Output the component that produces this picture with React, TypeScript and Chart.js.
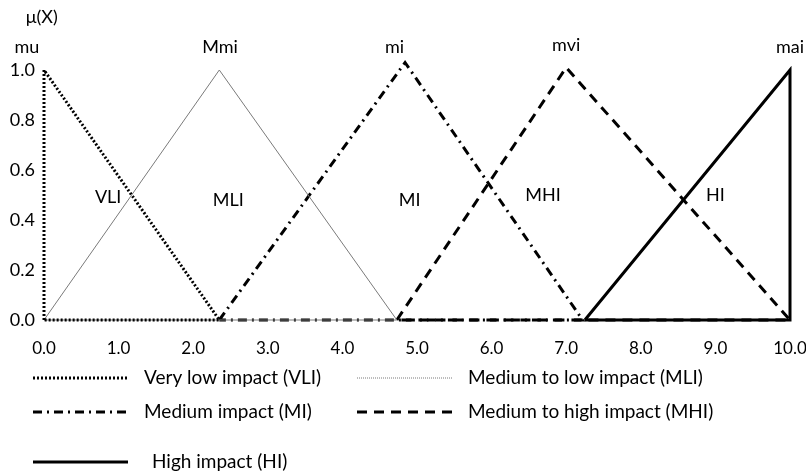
import React, { useEffect, useRef } from "react";
import { Chart, registerables } from "chart.js";

Chart.register(...registerables);

// ---- data ----
const seriesLabels = [
  "Very low impact (VLI)",
  "Medium to low impact (MLI)",
  "Medium impact (MI)",
  "Medium to high impact (MHI)",
  "High impact (HI)",
];
const vliX = [0, 0, 2.35, 0];
const vliY = [0, 1, 0, 0];
const mliX = [0, 2.35, 4.73, 0];
const mliY = [0, 1, 0, 0];
const miX = [2.35, 4.84, 7.22, 2.35];
const miY = [0, 1.03, 0, 0];
const mhiX = [4.73, 7.0, 10, 4.73];
const mhiY = [0, 1.01, 0, 0];
const hiX = [7.25, 10, 10, 7.25];
const hiY = [0, 1, 0, 0];

const xTickLabels = ["0.0", "1.0", "2.0", "3.0", "4.0", "5.0", "6.0", "7.0", "8.0", "9.0", "10.0"];
const yTickLabels = ["0.0", "0.2", "0.4", "0.6", "0.8", "1.0"];

const peakLabels = ["mu", "Mmi", "mi", "mvi", "mai"];
const peakLabelX = [-0.23, 2.36, 4.7, 7.0, 10.0];
const peakLabelY = [1.09, 1.09, 1.09, 1.1, 1.09];

const regionLabels = ["VLI", "MLI", "MI", "MHI", "HI"];
const regionLabelX = [0.86, 2.47, 4.9, 6.69, 9.0];
const regionLabelY = [0.49, 0.48, 0.48, 0.5, 0.5];

const axisTitle = "μ(X)";
const axisTitleX = -0.03;
const axisTitleY = 1.21;

const FONT = "Lato, 'Open Sans', sans-serif";

const pts = (xs: number[], ys: number[]) => xs.map((x, i) => ({ x, y: ys[i] }));

const overlayPlugin = {
  id: "overlay",
  afterDraw(chart: any) {
    const { ctx, scales } = chart;
    const x = scales.x;
    const y = scales.y;
    ctx.save();
    ctx.fillStyle = "#000";
    ctx.textAlign = "center";
    ctx.textBaseline = "middle";
    ctx.font = `18px ${FONT}`;
    ctx.fillText(axisTitle, x.getPixelForValue(axisTitleX), y.getPixelForValue(axisTitleY));
    peakLabels.forEach((t, i) =>
      ctx.fillText(t, x.getPixelForValue(peakLabelX[i]), y.getPixelForValue(peakLabelY[i]))
    );
    regionLabels.forEach((t, i) =>
      ctx.fillText(t, x.getPixelForValue(regionLabelX[i]), y.getPixelForValue(regionLabelY[i]))
    );

    // legend
    const rowY = [378, 412, 462];
    const colX = [33, 357];
    const textX = [144, 468];
    const sampleLen = 95;
    chart.data.datasets.forEach((ds: any, i: number) => {
      const col = i % 2;
      const row = Math.floor(i / 2);
      const yy = rowY[row];
      ctx.save();
      ctx.strokeStyle = ds.legendColor || ds.borderColor;
      ctx.lineWidth = ds.legendWidth || ds.borderWidth;
      ctx.setLineDash(ds.legendDash || ds.borderDash || []);
      ctx.beginPath();
      ctx.moveTo(colX[col], yy);
      ctx.lineTo(colX[col] + sampleLen, yy);
      ctx.stroke();
      ctx.restore();
      ctx.textAlign = "left";
      ctx.font = `19px ${FONT}`;
      ctx.fillText(ds.label, textX[col] + (row === 2 ? 8 : 0), yy);
    });
    ctx.restore();
  },
};

export default function App() {
  const ref = useRef<HTMLCanvasElement | null>(null);
  useEffect(() => {
    document.body.style.margin = "0";
    if (!ref.current) return;
    const common = { showLine: true, pointRadius: 0, tension: 0, clip: false, fill: false };
    const chart = new Chart(ref.current, {
      type: "scatter",
      data: {
        datasets: [
          {
            ...common,
            label: seriesLabels[0],
            data: pts(vliX, vliY),
            borderColor: "#000",
            borderWidth: 3,
            borderDash: [2, 2],
          },
          {
            ...common,
            label: seriesLabels[1],
            data: pts(mliX, mliY),
            borderColor: "#7a7a7a",
            borderWidth: 1,
            legendDash: [1, 1],
          },
          {
            ...common,
            label: seriesLabels[2],
            data: pts(miX, miY),
            borderColor: "#000",
            borderWidth: 3,
            borderDash: [9, 5, 2, 5],
          },
          {
            ...common,
            label: seriesLabels[3],
            data: pts(mhiX, mhiY),
            borderColor: "#000",
            borderWidth: 3,
            borderDash: [10, 7],
          },
          {
            ...common,
            label: seriesLabels[4],
            data: pts(hiX, hiY),
            borderColor: "#000",
            borderWidth: 3,
          },
        ] as any,
      },
      options: {
        animation: false,
        responsive: true,
        maintainAspectRatio: false,
        layout: { padding: { top: 70, right: 16, bottom: 115, left: 0 } },
        plugins: { legend: { display: false }, tooltip: { enabled: false } },
        scales: {
          x: {
            type: "linear",
            min: 0,
            max: 10,
            grid: { display: false, drawTicks: false },
            border: { display: false },
            ticks: {
              stepSize: 1,
              autoSkip: false,
              maxRotation: 0,
              padding: 18,
              color: "#000",
              font: { family: FONT, size: 17 },
              callback: (_v: any, i: number) => xTickLabels[i],
            },
            afterFit: (s: any) => {
              s.height = 40;
              s.paddingLeft = 0;
              s.paddingRight = 0;
            },
          },
          y: {
            min: 0,
            max: 1,
            grid: { display: false, drawTicks: false },
            border: { display: false },
            ticks: {
              stepSize: 0.2,
              padding: 9,
              color: "#000",
              font: { family: FONT, size: 18 },
              callback: (_v: any, i: number) => yTickLabels[i],
            },
            afterFit: (s: any) => {
              s.width = 44;
              s.paddingTop = 0;
              s.paddingBottom = 0;
            },
          },
        },
      } as any,
      plugins: [overlayPlugin],
    });
    return () => chart.destroy();
  }, []);
  return (
    <div style={{ position: "fixed", left: 0, top: 0, width: 806, height: 475, background: "#fff" }}>
      <canvas ref={ref} />
    </div>
  );
}
